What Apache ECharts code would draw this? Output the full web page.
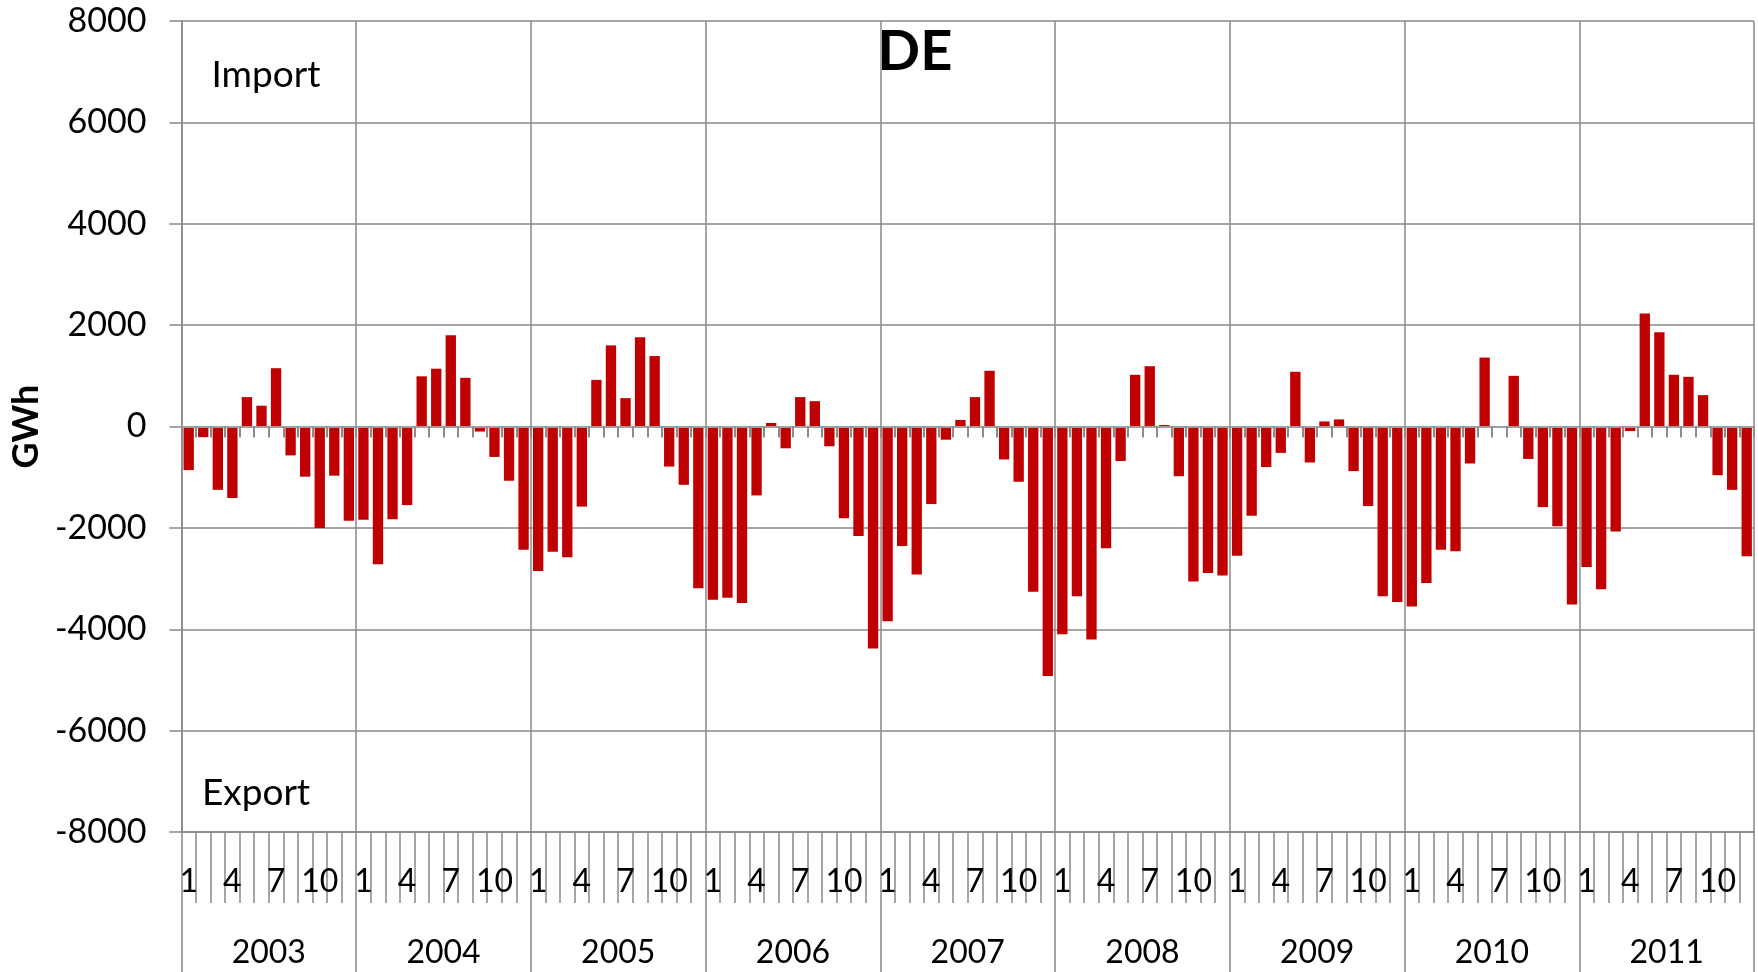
<!DOCTYPE html>
<html>
<head>
<meta charset="utf-8">
<script src="https://cdn.jsdelivr.net/npm/echarts@6/dist/echarts.min.js"></script>
<style>
html,body{margin:0;padding:0;background:#fff;}
#chart{width:1758px;height:972px;}
</style>
</head>
<body>
<div id="chart"></div>
<script>
// ---- data ----
const years = ['2003','2004','2005','2006','2007','2008','2009','2010','2011'];
const months = [1,2,3,4,5,6,7,8,9,10,11,12];
const monthTickLabels = [1,4,7,10];
const yTicks = {min:-8000, max:8000, step:2000};

const v2003 = [-860, -210, -1250, -1410, 580, 410, 1150, -570, -990, -2000, -970, -1860];
const v2004 = [-1840, -2720, -1830, -1550, 990, 1140, 1800, 960, -100, -600, -1070, -2430];
const v2005 = [-2850, -2470, -2580, -1580, 920, 1600, 560, 1760, 1390, -790, -1150, -3190];
const v2006 = [-3420, -3380, -3480, -1360, 70, -430, 580, 500, -390, -1810, -2160, -4380];
const v2007 = [-3840, -2360, -2920, -1530, -260, 130, 580, 1100, -650, -1090, -3260, -4920];
const v2008 = [-4100, -3350, -4200, -2400, -680, 1020, 1190, 30, -980, -3060, -2890, -2940];
const v2009 = [-2550, -1760, -800, -520, 1080, -710, 100, 140, -880, -1570, -3350, -3460];
const v2010 = [-3550, -3090, -2430, -2460, -730, 1360, 0, 1000, -640, -1590, -1970, -3510];
const v2011 = [-2770, -3210, -2070, -90, 2230, 1860, 1020, 980, 620, -960, -1250, -2560];

const title = 'DE';
const yName = 'GWh';
const importText = 'Import';
const exportText = 'Export';

// ---- build ----
const yearValues = [v2003, v2004, v2005, v2006, v2007, v2008, v2009, v2010, v2011];
const categories = [];
const values = [];
years.forEach((y, yi) => {
  months.forEach((m, mi) => {
    categories.push(y + '-' + m);
    values.push(yearValues[yi][mi]);
  });
});

const FONT = 'Lato';
const GRAY = '#888888';

const chart = echarts.init(document.getElementById('chart'), null, {renderer:'canvas'});
chart.setOption({
  backgroundColor:'#ffffff',
  animation:false,
  textStyle:{fontFamily:FONT},
  grid:{left:179, right:4, top:21, bottom:140, containLabel:false},
  xAxis:[
    { // month labels at bottom
      type:'category', data:categories, position:'bottom',
      axisLine:{show:true, onZero:false, lineStyle:{color:GRAY, width:1.5}},
      axisTick:{show:true, interval:0, length:71, lineStyle:{color:GRAY, width:1.5}},
      axisLabel:{
        interval:0, margin:34, fontSize:32, color:'#000', fontFamily:FONT,
        formatter:function(val){
          const m = parseInt(val.split('-')[1],10);
          return monthTickLabels.indexOf(m) >= 0 ? String(m) : '';
        }
      },
      splitLine:{show:false}
    },
    { // year labels + year separators
      type:'category', data:years, position:'bottom',
      axisLine:{show:false, onZero:false},
      axisTick:{show:true, interval:0, length:140, lineStyle:{color:GRAY, width:1.5}},
      axisLabel:{interval:0, margin:105, fontSize:32, color:'#000', fontFamily:FONT},
      splitLine:{show:true, interval:0, lineStyle:{color:GRAY, width:1.5}}
    },
    { // zero line with month ticks
      type:'category', data:categories, position:'bottom', z:5,
      axisLine:{show:true, onZero:true, lineStyle:{color:'#a0a0a0', width:2}},
      axisTick:{show:true, interval:0, length:11, lineStyle:{color:'#8c8c8c', width:2}},
      axisLabel:{show:false},
      splitLine:{show:false}
    }
  ],
  yAxis:{
    type:'value', min:yTicks.min, max:yTicks.max, interval:yTicks.step,
    name:yName, nameLocation:'middle', nameRotate:90, nameGap:131,
    nameTextStyle:{fontSize:36, fontWeight:'bold', color:'#000', fontFamily:FONT},
    axisLine:{show:true, lineStyle:{color:GRAY, width:1.5}},
    axisTick:{show:true, length:12, lineStyle:{color:GRAY, width:1.5}},
    axisLabel:{fontSize:34, color:'#000', margin:35, fontFamily:FONT,
      formatter:function(v){ return String(v); }},
    splitLine:{show:true, lineStyle:{color:GRAY, width:1.5}}
  },
  series:[{
    type:'bar', data:values, xAxisIndex:0, yAxisIndex:0,
    barCategoryGap:'29%',
    itemStyle:{color:'#C00000'}
  }],
  graphic:[
    {type:'text', x:915, y:24, style:{text:title, fill:'#000', font:'bold 56px Lato', textAlign:'center', textVerticalAlign:'top'}},
    {type:'text', x:266, y:75, style:{text:importText, fill:'#000', font:'37px Lato', textAlign:'center', textVerticalAlign:'middle'}},
    {type:'text', x:256, y:793, style:{text:exportText, fill:'#000', font:'37px Lato', textAlign:'center', textVerticalAlign:'middle'}}
  ]
});
</script>
</body>
</html>
